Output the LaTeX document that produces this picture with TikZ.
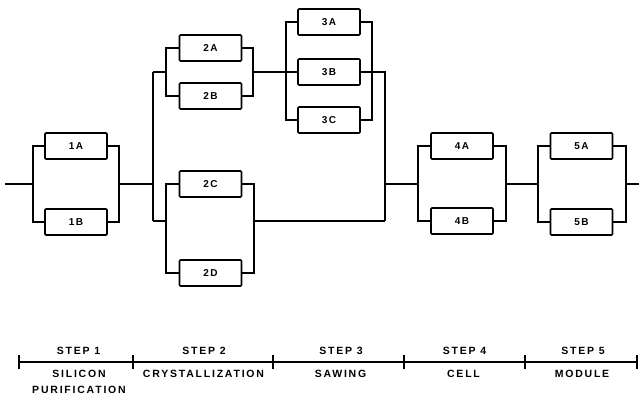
\documentclass[tikz,border=0pt]{standalone}
\usepackage{fontspec}
\newfontfamily\dfont[LetterSpace=17]{Liberation Sans}
\newfontfamily\bfont[LetterSpace=15]{Liberation Sans}
\begin{document}
\begin{tikzpicture}[x=1pt,y=-1pt,line width=2pt,
  blk/.style={draw,line width=1.6pt,minimum width=62pt,minimum height=26pt,inner sep=0pt,rounded corners=1pt,font=\bfont\bfseries\fontsize{10}{11}\selectfont},
  lbl/.style={inner sep=0pt,align=center,font=\dfont\bfseries\fontsize{10.5}{16}\selectfont},
  tick/.style={line width=1.6pt}]
\useasboundingbox (0,0) rectangle (639,395);
% blocks
\node[blk] (1A) at (76,146) {1A};
\node[blk] (1B) at (76,222) {1B};
\node[blk] (2A) at (210.5,48) {2A};
\node[blk] (2B) at (210.5,96) {2B};
\node[blk] (2C) at (210.5,184) {2C};
\node[blk] (2D) at (210.5,273) {2D};
\node[blk] (3A) at (329,22) {3A};
\node[blk] (3B) at (329,72) {3B};
\node[blk] (3C) at (329,120) {3C};
\node[blk] (4A) at (462,146) {4A};
\node[blk] (4B) at (462,221) {4B};
\node[blk] (5A) at (581.5,146) {5A};
\node[blk] (5B) at (581.5,222) {5B};
% junction coordinates
\coordinate (in) at (5,184);
\coordinate (L1) at (33,184);
\coordinate (R1) at (119,184);
\coordinate (J2) at (153,184);
\coordinate (T2) at (153,72);
\coordinate (B2) at (153,221);
\coordinate (L2ab) at (166,72);
\coordinate (R2ab) at (253,72);
\coordinate (L2cd) at (166,221);
\coordinate (R2cd) at (254,221);
\coordinate (L3) at (286,72);
\coordinate (R3) at (372,72);
\coordinate (J3t) at (385,72);
\coordinate (J3b) at (385,221);
\coordinate (J3) at (385,184);
\coordinate (L4) at (418,184);
\coordinate (R4) at (506,184);
\coordinate (L5) at (538,184);
\coordinate (R5) at (626,184);
\coordinate (out) at (639,184);
% stage 1
\draw (in) -- (L1);
\draw (1A.west) -| (L1) |- (1B.west);
\draw (1A.east) -| (R1) |- (1B.east);
\draw (R1) -- (J2);
% stage 2
\draw (T2) -- (B2);
\draw (T2) -- (L2ab);
\draw (2A.west) -| (L2ab) |- (2B.west);
\draw (2A.east) -| (R2ab) |- (2B.east);
\draw (B2) -- (L2cd);
\draw (2C.west) -| (L2cd) |- (2D.west);
\draw (2C.east) -| (R2cd) |- (2D.east);
% stage 3
\draw (R2ab) -- (3B.west);
\draw (3A.west) -| (L3) |- (3C.west);
\draw (3A.east) -| (R3) |- (3C.east);
\draw (3B.east) -- (J3t) -- (J3b);
\draw (R2cd) -- (J3b);
% stage 4
\draw (J3) -- (L4);
\draw (4A.west) -| (L4) |- (4B.west);
\draw (4A.east) -| (R4) |- (4B.east);
\draw (R4) -- (L5);
% stage 5
\draw (5A.west) -| (L5) |- (5B.west);
\draw (5A.east) -| (R5) |- (5B.east);
\draw (R5) -- (out);
% timeline
\coordinate (t0) at (19,362);
\coordinate (t1) at (133,362);
\coordinate (t2) at (273,362);
\coordinate (t3) at (404,362);
\coordinate (t4) at (525,362);
\coordinate (t5) at (637,362);
\draw[line width=1.6pt] (t0) -- (t5);
\foreach \t in {t0,t1,t2,t3,t4,t5}{
  \draw[tick] ([yshift=-7pt]\t) -- ([yshift=7pt]\t);
}
\node[lbl] (s1) at (78.5,351) {STEP 1};
\node[lbl] (s2) at (204,351) {STEP 2};
\node[lbl] (s3) at (341,351) {STEP 3};
\node[lbl] (s4) at (464.5,351) {STEP 4};
\node[lbl] (s5) at (583,351) {STEP 5};
\node[lbl,anchor=north] (n1) at (79,369) {SILICON\\PURIFICATION};
\node[lbl] (n2) at (203.5,374) {CRYSTALLIZATION};
\node[lbl] (n3) at (340.5,374) {SAWING};
\node[lbl] (n4) at (463.5,374) {CELL};
\node[lbl] (n5) at (582,374) {MODULE};
\end{tikzpicture}
\end{document}
